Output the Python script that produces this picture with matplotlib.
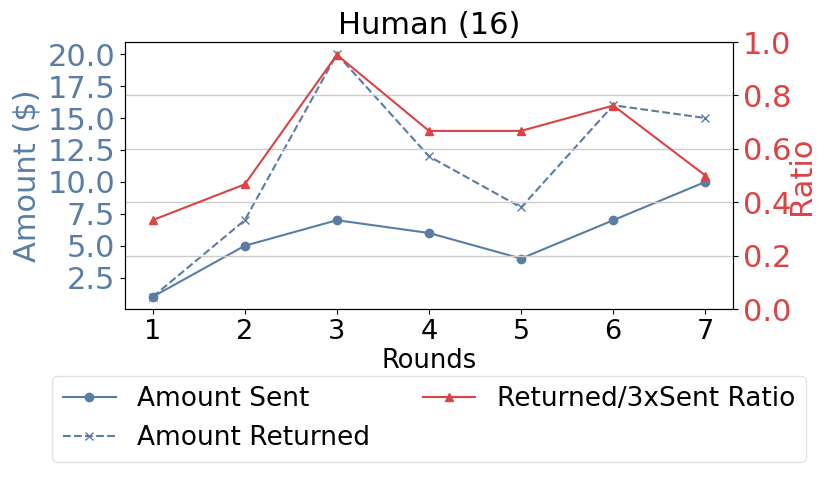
import matplotlib
matplotlib.use("Agg")
import matplotlib.pyplot as plt

rounds = [1, 2, 3, 4, 5, 6, 7]
amount_sent = [1, 5, 7, 6, 4, 7, 10]
amount_returned = [1, 7, 20, 12, 8, 16, 15]
ratio = [0.333, 0.467, 0.952, 0.667, 0.667, 0.762, 0.5]
left_ticks = [2.5, 5, 7.5, 10, 12.5, 15, 17.5, 20]
right_ticks = [0, 0.2, 0.4, 0.6, 0.8, 1.0]

blue = '#5a7da6'
red = '#dc4343'

fig = plt.figure(figsize=(8.3, 4.98), dpi=100)
ax = fig.add_axes([125/830, 1-309/498, (733-125)/830, (309-42)/498])
ax2 = ax.twinx()

l1, = ax.plot(rounds, amount_sent, color=blue, marker='o', markersize=6, linewidth=1.5, label='Amount Sent')
l2, = ax.plot(rounds, amount_returned, color=blue, marker='x', markersize=6, linewidth=1.5, linestyle='--', label='Amount Returned')
l3, = ax2.plot(rounds, ratio, color=red, marker='^', markersize=6, linewidth=1.5, label='Returned/3xSent Ratio')

ax.set_yticks(left_ticks)
ax.set_ylabel('Amount ($)', color=blue, fontsize=22, labelpad=4)
ax.tick_params(axis='y', labelcolor=blue, labelsize=22)
ax.tick_params(axis='x', labelsize=19.5)
ax.set_xlabel('Rounds', fontsize=18.5, labelpad=2)
ax.set_xticks(rounds)

ax2.set_ylim(0, 1)
ax2.set_yticks(right_ticks)
ax2.set_ylabel('Ratio', color=red, fontsize=22, labelpad=-3)
ax2.tick_params(axis='y', labelcolor=red, labelsize=22)
ax2.grid(True, axis='y', color='#cccccc', linewidth=1)

ax.set_title('Human (16)', fontsize=22)

ax.legend(handles=[l1, l2, l3], loc='upper center', bbox_to_anchor=(0.5, -0.2),
          ncol=2, fontsize=19, frameon=True, edgecolor='#dddddd')

fig.savefig('out.png', dpi=100)
